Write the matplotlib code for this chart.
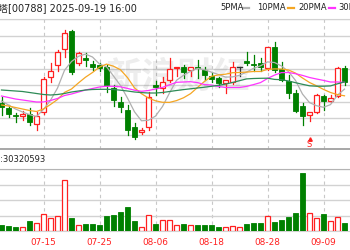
import matplotlib
matplotlib.use("Agg")
import matplotlib.pyplot as plt
from matplotlib.patches import Rectangle
from matplotlib.lines import Line2D

plt.rcParams['font.family'] = ['DejaVu Sans', 'Noto Sans CJK SC']

# trading days shown (HK), 07-07 .. 09-12
dates = ['07-07', '07-08', '07-09', '07-10', '07-11', '07-14', '07-15', '07-16', '07-17', '07-18',
         '07-21', '07-22', '07-23', '07-24', '07-25', '07-28', '07-29', '07-30', '07-31', '08-01',
         '08-04', '08-05', '08-06', '08-07', '08-08', '08-11', '08-12', '08-13', '08-14', '08-15',
         '08-18', '08-19', '08-20', '08-21', '08-22', '08-25', '08-26', '08-27', '08-28', '08-29',
         '09-01', '09-02', '09-03', '09-04', '09-05', '09-08', '09-09', '09-10', '09-11', '09-12']
tick_dates = ['07-15', '07-25', '08-06', '08-18', '08-28', '09-09']

opens = [11.47, 11.42, 11.35, 11.34, 11.36, 11.26, 11.38, 11.73, 11.85, 12.01,
         12.19, 11.87, 11.92, 11.86, 11.85, 11.83, 11.62, 11.48, 11.40, 11.23,
         11.18, 11.23, 11.65, 11.62, 11.70, 11.82, 11.83, 11.80, 11.83, 11.80,
         11.74, 11.72, 11.67, 11.68, 11.83, 11.89, 11.86, 11.87, 11.82, 12.03,
         11.81, 11.69, 11.57, 11.44, 11.35, 11.38, 11.54, 11.49, 11.54, 11.82]
highs = [11.53, 11.45, 11.37, 11.39, 11.42, 11.38, 11.73, 11.87, 12.00, 12.20,
         12.20, 11.98, 11.97, 11.89, 11.87, 11.85, 11.65, 11.53, 11.45, 11.27,
         11.22, 11.58, 11.69, 11.73, 11.92, 11.83, 11.85, 11.83, 11.90, 11.83,
         11.78, 11.73, 11.70, 11.88, 11.83, 11.98, 11.95, 11.92, 12.03, 12.08,
         11.88, 11.75, 11.60, 11.47, 11.38, 11.56, 11.55, 11.55, 11.83, 11.84]
lows = [11.35, 11.33, 11.28, 11.30, 11.25, 11.20, 11.36, 11.68, 11.79, 11.93,
        11.76, 11.85, 11.84, 11.80, 11.79, 11.58, 11.44, 11.38, 11.15, 11.11,
        11.16, 11.20, 11.55, 11.57, 11.68, 11.74, 11.72, 11.74, 11.72, 11.70,
        11.68, 11.63, 11.57, 11.66, 11.74, 11.85, 11.79, 11.79, 11.80, 11.78,
        11.69, 11.52, 11.38, 11.25, 11.29, 11.37, 11.40, 11.48, 11.53, 11.65]
closes = [11.43, 11.36, 11.34, 11.36, 11.28, 11.34, 11.71, 11.79, 11.98, 12.17,
          11.78, 11.97, 11.90, 11.83, 11.82, 11.65, 11.50, 11.43, 11.20, 11.13,
          11.20, 11.53, 11.63, 11.68, 11.81, 11.83, 11.78, 11.83, 11.82, 11.75,
          11.71, 11.67, 11.70, 11.83, 11.83, 11.87, 11.85, 11.83, 12.03, 11.80,
          11.70, 11.57, 11.39, 11.34, 11.38, 11.55, 11.49, 11.52, 11.82, 11.68]
volumes = [6000000, 4700000, 3700000, 3700000, 10000000, 8300000, 17300000, 12700000, 15300000, 51000000,
           12700000, 6000000, 7300000, 7300000, 6000000, 14700000, 16000000, 19000000, 24000000, 10000000,
           4000000, 16000000, 7300000, 11000000, 11000000, 6000000, 7300000, 6000000, 6000000, 6000000,
           6000000, 4300000, 3700000, 4700000, 3700000, 6700000, 8300000, 8300000, 15000000, 9300000,
           11000000, 14300000, 17700000, 57700000, 18300000, 12700000, 16700000, 10000000, 13700000, 8300000]

ma5 = [11.49, 11.45, 11.41, 11.38, 11.354, 11.335, 11.406, 11.497, 11.619, 11.797,
       11.885, 11.937, 11.959, 11.93, 11.86, 11.833, 11.74, 11.645, 11.519, 11.382,
       11.292, 11.298, 11.339, 11.435, 11.57, 11.697, 11.747, 11.787, 11.815, 11.803,
       11.778, 11.755, 11.729, 11.731, 11.747, 11.779, 11.816, 11.842, 11.881, 11.875,
       11.84, 11.784, 11.696, 11.559, 11.474, 11.443, 11.427, 11.454, 11.549, 11.609]
ma10 = [11.45, 11.44, 11.425, 11.41, 11.395, 11.385, 11.41, 11.455, 11.505, 11.576,
        11.61, 11.671, 11.728, 11.775, 11.829, 11.859, 11.838, 11.802, 11.724, 11.621,
        11.563, 11.519, 11.492, 11.477, 11.476, 11.494, 11.522, 11.563, 11.625, 11.686,
        11.737, 11.751, 11.758, 11.773, 11.775, 11.779, 11.785, 11.785, 11.806, 11.811,
        11.81, 11.80, 11.769, 11.72, 11.675, 11.642, 11.606, 11.575, 11.554, 11.542]
ma20 = [11.54, 11.525, 11.51, 11.50, 11.49, 11.48, 11.48, 11.495, 11.515, 11.545,
        11.56, 11.58, 11.60, 11.615, 11.63, 11.637, 11.637, 11.632, 11.616, 11.598,
        11.587, 11.595, 11.61, 11.626, 11.652, 11.677, 11.68, 11.683, 11.674, 11.654,
        11.65, 11.635, 11.625, 11.625, 11.625, 11.636, 11.654, 11.674, 11.715, 11.749,
        11.774, 11.775, 11.763, 11.746, 11.725, 11.71, 11.696, 11.68, 11.68, 11.676]
ma30 = [11.60, 11.595, 11.59, 11.585, 11.575, 11.565, 11.555, 11.55, 11.555, 11.565,
        11.58, 11.59, 11.60, 11.605, 11.607, 11.607, 11.605, 11.598, 11.59, 11.58,
        11.574, 11.57, 11.57, 11.575, 11.585, 11.595, 11.604, 11.612, 11.62, 11.628,
        11.637, 11.647, 11.659, 11.675, 11.693, 11.711, 11.715, 11.717, 11.718, 11.706,
        11.703, 11.69, 11.673, 11.657, 11.642, 11.638, 11.638, 11.641, 11.662, 11.68]

price_grid = [11.155, 11.32, 11.485, 11.65, 11.815, 11.98, 12.145, 12.31]
vol_grid = [15500000, 31000000, 46500000, 62000000]

RED = '#ff2020'
GREEN = '#008000'
GREY_LINE = '#d2d2d2'
W, H = 350, 250

fig = plt.figure(figsize=(3.5, 2.5), dpi=100)
ax = fig.add_axes([0, (H - 149) / H, 1, 130 / H])
axv = fig.add_axes([0, (H - 231) / H, 1, 62 / H])

n = len(dates)
xs = list(range(n))
ticks = [dates.index(d) for d in tick_dates]

for a in (ax, axv):
    a.set_xlim(-1.5 / 7, (W - 1.5) / 7)
    a.set_xticks(ticks)
    a.grid(axis='x', color='#c8c8c8', lw=0.8, linestyle=(0, (3, 3)))
    a.grid(axis='y', color=GREY_LINE, lw=1.0)
    a.set_axisbelow(True)
    for s in ('left', 'right'):
        a.spines[s].set_visible(False)
    a.tick_params(length=0)

ax.set_ylim(11.01, 12.31)
ax.set_yticks(price_grid)
ax.set_yticklabels([])
ax.set_xticklabels([])
ax.spines['top'].set_color(GREY_LINE)
ax.spines['bottom'].set_color('#a0a0a0')
ax.spines['bottom'].set_linewidth(1.3)

axv.set_ylim(0, 62000000)
axv.set_yticks(vol_grid)
axv.set_yticklabels([])
axv.set_xticklabels(tick_dates, color=RED, fontsize=6.4)
axv.tick_params(axis='x', pad=5)
axv.spines['top'].set_color('#b4b4b4')
axv.spines['bottom'].set_color(GREY_LINE)

# faint site watermark behind the candles
ax.text(0.506, 0.55, '新浪财经', transform=ax.transAxes, ha='center', va='center',
        fontsize=26, color='#000000', alpha=0.07, fontweight='bold',
        family=['Noto Sans CJK SC'], zorder=1)

bw = 0.65
for i in xs:
    o, h, l, c = opens[i], highs[i], lows[i], closes[i]
    if c > o:
        ax.plot([i, i], [h, c], color=RED, lw=0.9, zorder=3)
        ax.plot([i, i], [o, l], color=RED, lw=0.9, zorder=3)
        ax.add_patch(Rectangle((i - bw / 2, o), bw, c - o, facecolor='white',
                               edgecolor=RED, lw=0.9, zorder=3))
    elif c < o:
        ax.plot([i, i], [l, h], color=GREEN, lw=0.9, zorder=3)
        ax.add_patch(Rectangle((i - bw / 2, c), bw, o - c, facecolor=GREEN,
                               edgecolor=GREEN, lw=0.6, zorder=3))
    else:
        ax.plot([i, i], [l, h], color='#333333', lw=0.9, zorder=3)
        ax.plot([i - bw / 2, i + bw / 2], [c, c], color='#333333', lw=1.0, zorder=3)

    if c >= o:
        axv.add_patch(Rectangle((i - bw / 2, 0), bw, volumes[i], facecolor='white',
                                edgecolor=RED, lw=0.9, zorder=3))
    else:
        axv.add_patch(Rectangle((i - bw / 2, 0), bw, volumes[i], facecolor=GREEN,
                                edgecolor=GREEN, lw=0.6, zorder=3))

ma_colors = ['#b0b0b0', '#f5a623', '#ff33ff', '#2e8b57']
for vals, col in zip([ma5, ma10, ma20, ma30], ma_colors):
    ax.plot(xs, vals, color=col, lw=0.9, zorder=4)

# marker under the 09-05 candle
ax.text(dates.index('09-05'), 11.05, 'S', color=RED, fontsize=6, ha='center',
        va='center', clip_on=False, zorder=5)
ax.plot([dates.index('09-05')], [11.115], marker='^', ms=2.5, color=RED,
        clip_on=False, zorder=5)

fig.text(137 / W, 1 - 8 / H, '中国铁塔[00788] 2025-09-19 16:00', ha='right',
         va='center', fontsize=7, color='#222222')
fig.text(46 / W, 1 - 159 / H, '成交量:30320593', ha='right', va='center',
         fontsize=6, color='#222222')

legend = [('5PMA', 220, 243, ma_colors[0]), ('10PMA', 257, 288, ma_colors[1]),
          ('20PMA', 298, 329, ma_colors[2]), ('30PMA', 338, 368, ma_colors[3])]
for label, tx, lx, col in legend:
    fig.text(tx / W, 1 - 8 / H, label, ha='left', va='center', fontsize=6, color='#222222')
    fig.add_artist(Line2D([lx / W, (lx + 6) / W], [1 - 8 / H, 1 - 8 / H],
                          color=col, lw=1.6, transform=fig.transFigure))

fig.savefig('out.png', dpi=100, facecolor='white')
